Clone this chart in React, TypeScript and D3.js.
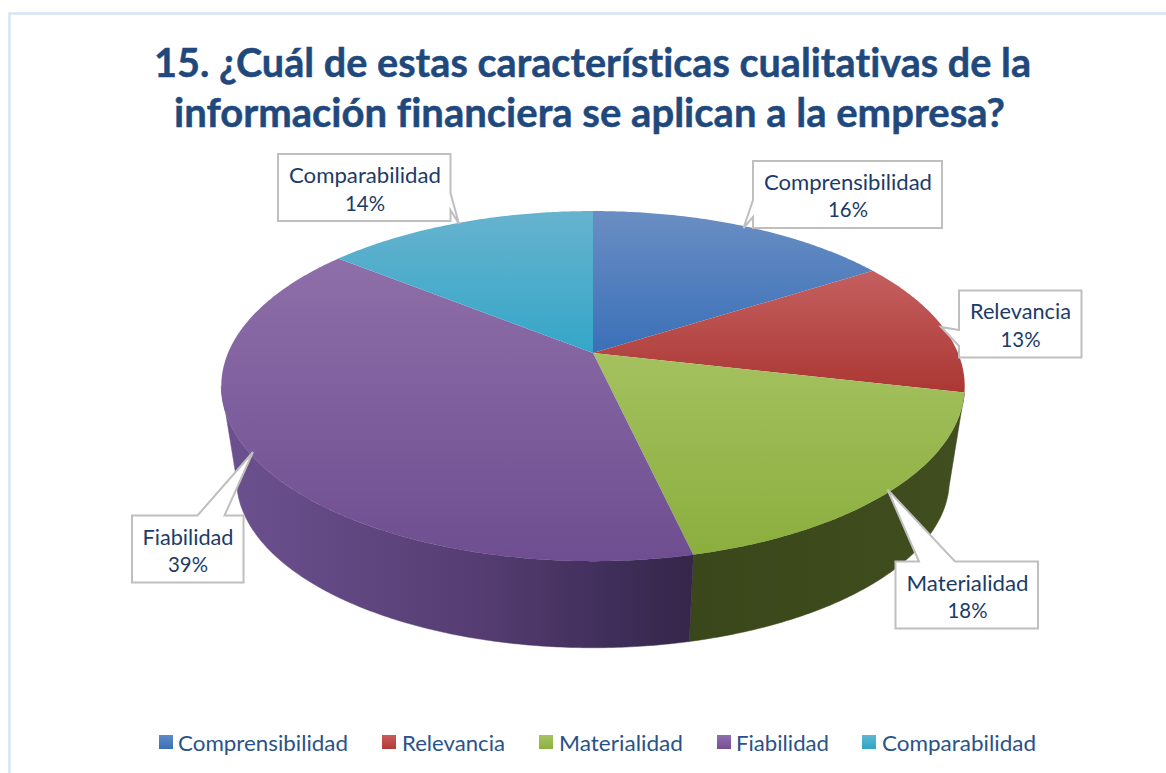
import React from "react";
import * as d3 from "d3";

const categories = ["Comprensibilidad", "Relevancia", "Materialidad", "Fiabilidad", "Comparabilidad"];
const values = [16.0, 12.6, 17.8, 39.35, 14.25];
const titleLines = [
  "15. ¿Cuál de estas características cualitativas de la",
  "información financiera se aplican a la empresa?",
];

// Styling per slice
const topGradients = [
  ["#6a8ec3", "#3a70b8"],
  ["#c46060", "#ab3733"],
  ["#a4c15f", "#8bae3e"],
  ["#8e6fa9", "#6e4e90"],
  ["#66b3cf", "#35a6c8"],
];
const swatchGradients = [
  ["#5f8ac6", "#3b70b6"],
  ["#cc5c5a", "#b03a36"],
  ["#a6c562", "#8cb040"],
  ["#8f6fab", "#754f98"],
  ["#5cb8d2", "#32a4c4"],
];

// Layout of the callouts: box, text and pointer shape
const callouts = [
  { box: [753, 161, 942, 228], tip: [743.5, 228], base: [[753, 200], [753, 217]], textX: 848, nameW: 168, pctW: 40, y: [190, 217] },
  { box: [959, 290.5, 1081.5, 357.5], tip: [941, 327], base: [[959, 330], [959, 346]], textX: 1020.5, nameW: 101, pctW: 40, y: [319, 347] },
  { box: [895.5, 561.5, 1038, 628.5], tip: [887.5, 489.5], base: [[955, 561.5], [919, 561.5]], textX: 967.5, nameW: 122, pctW: 40, y: [591, 618] },
  { box: [132, 515.5, 243.5, 582.5], tip: [253, 452], base: [[197.5, 515.5], [224.5, 515.5]], textX: 188, nameW: 91, pctW: 40, y: [545, 572] },
  { box: [278, 154, 450.5, 221], tip: [459, 224], base: [[450.5, 210], [450.5, 193]], textX: 365, nameW: 152, pctW: 40, y: [183, 211] },
];

const legendLayout = [
  { sq: 159, tx: 178, tw: 170 },
  { sq: 382, tx: 402, tw: 103 },
  { sq: 539, tx: 559, tw: 124 },
  { sq: 717, tx: 736, tw: 93 },
  { sq: 862, tx: 882, tw: 154 },
];

// Perspective of the pie
const K = 0.189;
const cx = 593;
const topDisc = { y0: 353, A: 365, B: 168.8 };
const botDisc = { y0: 448, A: 350, B: 162 };
const project = (disc: typeof topDisc, a: number): [number, number] => {
  const u = Math.sin(a);
  const v = -Math.cos(a);
  const w = 1 - K * v;
  return [cx + (disc.A * u) / w, disc.y0 + (disc.B * v) / w];
};

const line = d3.line<[number, number]>();
const sample = (a0: number, a1: number) => {
  const n = Math.max(2, Math.ceil(Math.abs(a1 - a0) / 0.01));
  return d3.range(n + 1).map((i) => a0 + ((a1 - a0) * i) / n);
};

const arcs = d3.pie<number>().sort(null).value((d) => d)(values);

const deg = Math.PI / 180;
const frontMin = 100.9 * deg;
const frontMax = 259.1 * deg;

const wallPath = (a0: number, a1: number) => {
  const t = sample(a0, a1).map((a) => project(topDisc, a));
  const b = sample(a1, a0).map((a) => project(botDisc, a));
  return line([...t, ...b])! + "Z";
};

const slicePath = (a0: number, a1: number) => {
  const pts = sample(a0, a1).map((a) => project(topDisc, a));
  return line([[cx, topDisc.y0], ...pts])! + "Z";
};

const wallFill = ["#3c491c", "#3c491c", "url(#wall2)", "url(#wall3)", "#3c491c"];

const LABEL = "#1c3b69";
const FONT = "Lato, 'Noto Sans', sans-serif";

export default function App() {
  return (
    <svg
      width={1166}
      height={773}
      viewBox="0 0 1166 773"
      style={{ position: "absolute", left: 0, top: 0, background: "#fff", fontVariantLigatures: "none" }}
      fontFamily={FONT}
    >
      <defs>
        {topGradients.map((g, i) => (
          <linearGradient key={i} id={`top${i}`} x1="0" y1="0" x2="0" y2="1">
            <stop offset="0" stopColor={g[0]} />
            <stop offset="1" stopColor={g[1]} />
          </linearGradient>
        ))}
        {swatchGradients.map((g, i) => (
          <linearGradient key={i} id={`sw${i}`} x1="0" y1="0" x2="0" y2="1">
            <stop offset="0" stopColor={g[0]} />
            <stop offset="1" stopColor={g[1]} />
          </linearGradient>
        ))}
        <linearGradient id="wall3" gradientUnits="userSpaceOnUse" x1="221" y1="0" x2="692" y2="0">
          <stop offset="0" stopColor="#6c5190" />
          <stop offset="0.25" stopColor="#624882" />
          <stop offset="0.55" stopColor="#553d72" />
          <stop offset="0.85" stopColor="#3e2d58" />
          <stop offset="1" stopColor="#35264a" />
        </linearGradient>
        <linearGradient id="wall2" gradientUnits="userSpaceOnUse" x1="692" y1="0" x2="965" y2="0">
          <stop offset="0" stopColor="#3a471a" />
          <stop offset="0.5" stopColor="#3d4a1c" />
          <stop offset="1" stopColor="#404e20" />
        </linearGradient>
      </defs>

      {/* frame */}
      <path d="M9.5 773V13.5H1166" fill="none" stroke="#d6e4f6" strokeWidth={2.5} />

      {/* title */}
      {titleLines.map((t, i) => (
        <text
          key={i}
          x={[592.5, 589.5][i]}
          y={[77, 127][i]}
          textAnchor="middle"
          fontSize={41}
          fontWeight={700}
          fill="#1f497d"
          stroke="#1f497d"
          strokeWidth={0.5}
          textLength={[877, 831][i]}
          lengthAdjust="spacingAndGlyphs"
        >
          {t}
        </text>
      ))}

      {/* side walls */}
      {arcs.map((d, i) => {
        const a0 = Math.max(d.startAngle, frontMin);
        const a1 = Math.min(d.endAngle, frontMax);
        if (a1 <= a0 || a1 - a0 < 0.1) return null;
        return <path key={i} d={wallPath(a0, a1)} fill={wallFill[i]} stroke={wallFill[i]} strokeWidth={0.5} />;
      })}

      {/* top face */}
      {arcs.map((d, i) => (
        <path key={i} d={slicePath(d.startAngle, d.endAngle)} fill={`url(#top${i})`} />
      ))}

      {/* callouts */}
      {arcs.map((d, i) => {
        const c = callouts[i];
        const [x0, y0, x1, y1] = c.box;
        const pct = `${Math.round(d.value)}%`;
        const [[bx0, by0], [bx1, by1]] = c.base;
        const tip = c.tip as [number, number];
        let pts: [number, number][];
        if (bx0 === x0 && bx1 === x0) {
          pts = [[x0, y0], [x1, y0], [x1, y1], [x0, y1], [bx1, by1], tip, [bx0, by0]];
        } else if (bx0 === x1 && bx1 === x1) {
          pts = [[x0, y0], [x1, y0], [bx1, by1], tip, [bx0, by0], [x1, y1], [x0, y1]];
        } else {
          pts = [[x0, y0], [Math.min(bx0, bx1), y0], tip, [Math.max(bx0, bx1), y0], [x1, y0], [x1, y1], [x0, y1]];
        }
        return (
          <g key={i}>
            <path d={line(pts)! + "Z"} fill="#fff" stroke="#bfbfbf" strokeWidth={2} strokeLinejoin="miter" />
            <text x={c.textX} y={c.y[0]} textAnchor="middle" fontSize={22} fill={LABEL} textLength={c.nameW} lengthAdjust="spacingAndGlyphs">
              {categories[i]}
            </text>
            <text x={c.textX} y={c.y[1]} textAnchor="middle" fontSize={22} fill={LABEL} textLength={c.pctW} lengthAdjust="spacingAndGlyphs">
              {pct}
            </text>
          </g>
        );
      })}

      {/* legend */}
      {categories.map((name, i) => (
        <g key={name}>
          <rect x={legendLayout[i].sq} y={735} width={14} height={14} fill={`url(#sw${i})`} />
          <text x={legendLayout[i].tx} y={751} fontSize={22} fill="#2a5288" textLength={legendLayout[i].tw} lengthAdjust="spacingAndGlyphs">
            {name}
          </text>
        </g>
      ))}
    </svg>
  );
}
